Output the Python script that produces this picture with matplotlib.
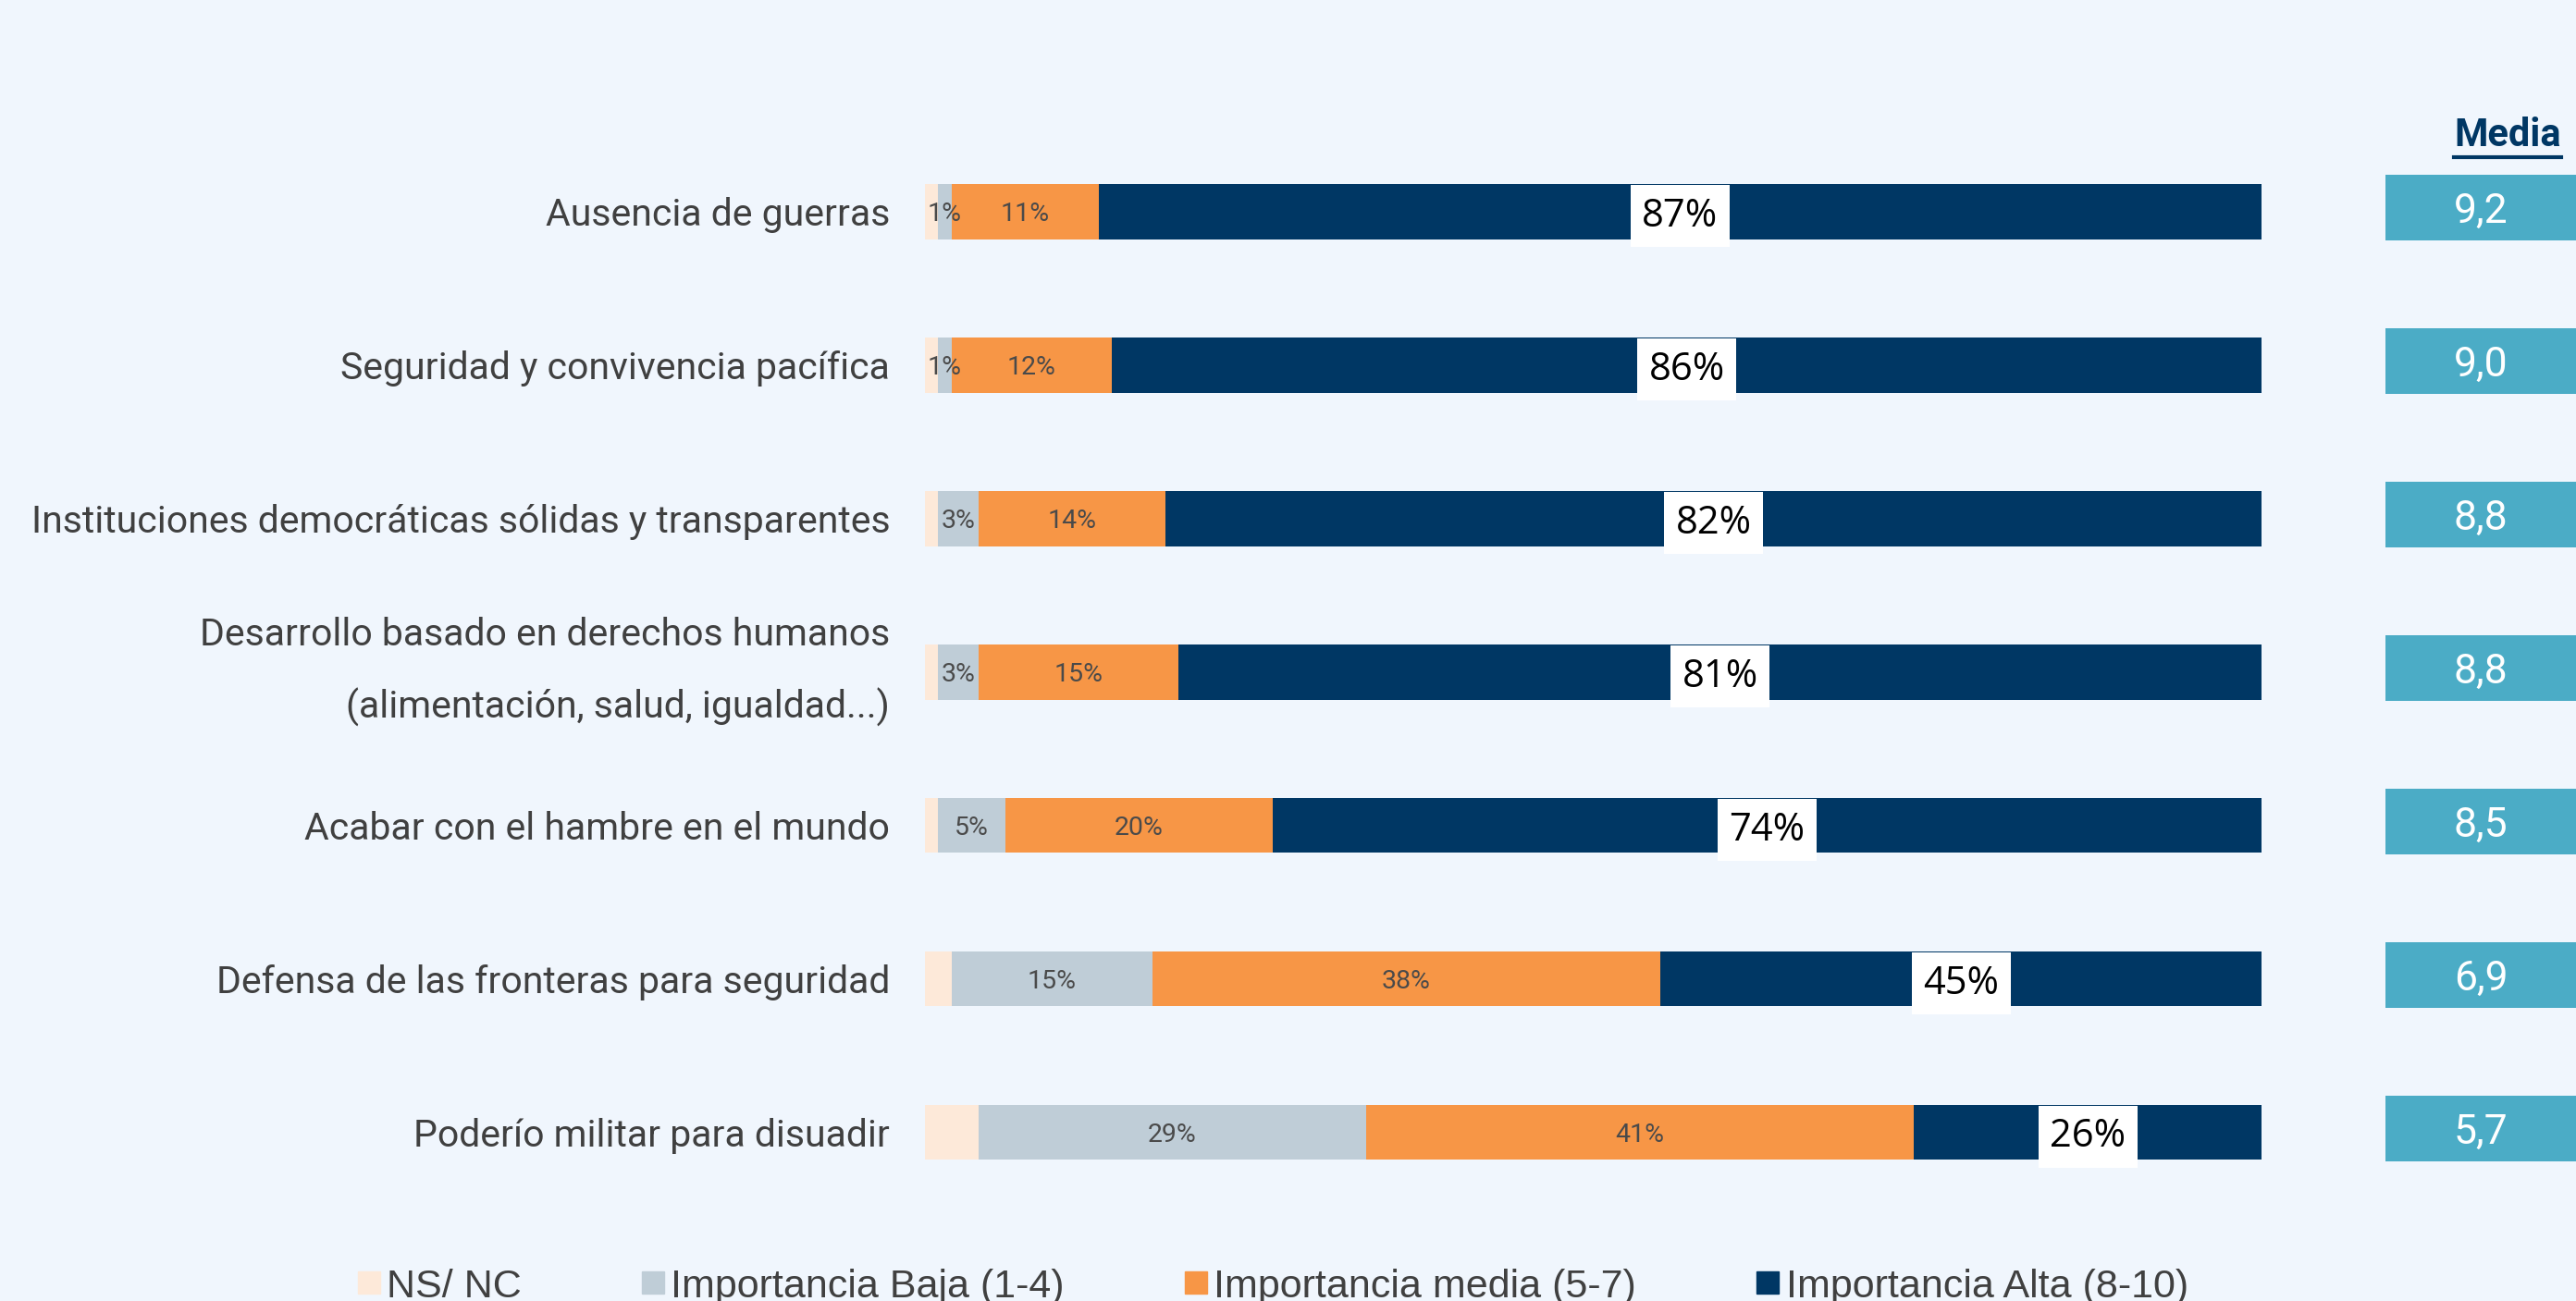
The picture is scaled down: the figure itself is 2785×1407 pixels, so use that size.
import numpy as np
import matplotlib
matplotlib.use('Agg')
import matplotlib.pyplot as plt
from matplotlib.lines import Line2D

categorias = ['Ausencia de guerras',
              'Seguridad y convivencia pacífica',
              'Instituciones democráticas sólidas y transparentes',
              'Desarrollo basado en derechos humanos\n(alimentación, salud, igualdad...)',
              'Acabar con el hambre en el mundo',
              'Defensa de las fronteras para seguridad',
              'Poderío militar para disuadir']
ns_nc = [1, 1, 1, 1, 1, 2, 4]
baja = [1, 1, 3, 3, 5, 15, 29]
media = [11, 12, 14, 15, 20, 38, 41]
alta = [87, 86, 82, 81, 74, 45, 26]
medias = [9.2, 9.0, 8.8, 8.8, 8.5, 6.9, 5.7]

series = ['NS/ NC', 'Importancia Baja (1-4)', 'Importancia media (5-7)', 'Importancia Alta (8-10)']
colores = ['#FDE9D9', '#BFCDD7', '#F79646', '#003764']
fondo = '#F0F6FD'
gris = '#404040'

fig = plt.figure(figsize=(27.85, 14.07), dpi=100)
fig.patch.set_facecolor(fondo)

pos = [0.359, 0.059, 0.519, 0.849]
ax = fig.add_axes(pos)
ax.set_facecolor('none')
y = np.arange(len(categorias))

izq = np.zeros(len(categorias))
datos = [ns_nc, baja, media, alta]
for i, vals in enumerate(datos):
    vals = np.array(vals)
    ax.barh(y, vals, left=izq, height=0.36, color=colores[i], label=series[i])
    for yy, l, v in zip(y, izq, vals):
        if i in (1, 2):
            ax.text(l + v / 2, yy, f'{v}%', ha='center', va='center_baseline',
                    fontsize=20.5, color='#4a4a4a', family='Roboto')
        elif i == 3:
            ax.text(l + v / 2, yy, f'{v}%', ha='center', va='center_baseline',
                    fontsize=30, color='black', family='Open Sans',
                    bbox=dict(facecolor='white', edgecolor='none', lw=0, pad=9))
    izq += vals

ax.set_xlim(0, 100)
ax.set_ylim(6.6, -0.6)
ax.set_xticks([])
ax.set_yticks(y)
ax.set_yticklabels(categorias, fontsize=29.5, color=gris, family='Roboto')
for lab in ax.get_yticklabels():
    if '\n' in lab.get_text():
        lab.set_linespacing(2.15)
        lab.set_va('center')
ax.tick_params(axis='y', length=0, pad=27)
for s in ax.spines.values():
    s.set_visible(False)

# columna de medias
mx = fig.add_axes([0.926, pos[1] + 0.003, 0.074, pos[3]])
mx.set_facecolor('none')
mx.barh(y, [1] * len(medias), height=0.43, color='#4BACC6')
for yy, m in zip(y, medias):
    mx.text(0.5, yy, f'{m:.1f}'.replace('.', ','), ha='center', va='center_baseline',
            fontsize=32, color='white', family='Roboto')
mx.set_xlim(0, 1)
mx.set_ylim(6.6, -0.6)
mx.axis('off')

t = fig.text(0.9735, 0.896, 'Media', ha='center', va='center', fontsize=30,
             fontweight='bold', color='#003764', family='Roboto')
fig.canvas.draw()
bb = t.get_window_extent()
fig.add_artist(Line2D([bb.x0 / fig.bbox.width, bb.x1 / fig.bbox.width],
                      [(bb.y0 - 3) / fig.bbox.height] * 2,
                      color='#003764', lw=3))

handles = [Line2D([], [], marker='s', linestyle='none', markersize=17,
                  color=c) for c in colores]
fig.legend(handles, series, loc='center', bbox_to_anchor=(0.494, 0.011),
           ncol=4, frameon=False, handlelength=0.6, handletextpad=0.15,
           columnspacing=3.0, prop={'family': 'Liberation Sans', 'size': 31},
           labelcolor=gris)

fig.savefig('out.png', dpi=100, facecolor=fondo)
